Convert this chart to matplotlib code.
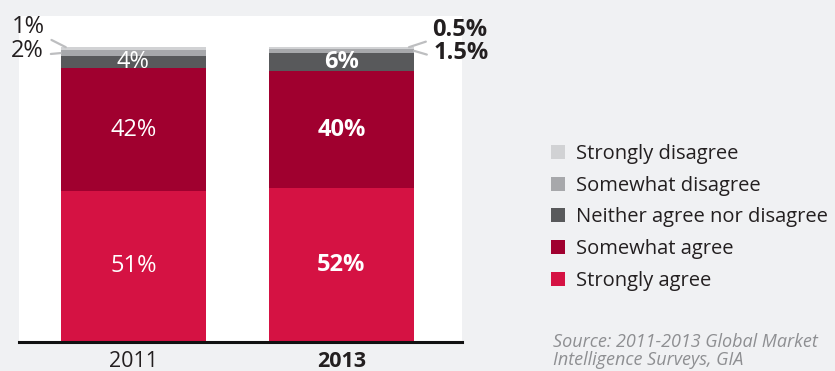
import numpy as np
import matplotlib.pyplot as plt
from matplotlib.patches import Patch

plt.rcParams['font.family'] = ['Open Sans', 'DejaVu Sans']

years = ['2011', '2013']
categories = ['Strongly agree', 'Somewhat agree', 'Neither agree nor disagree',
              'Somewhat disagree', 'Strongly disagree']
values = {
    '2011': [51, 42, 4, 2, 1],
    '2013': [52, 40, 6, 1.5, 0.5],
}
labels = {
    '2011': ['51%', '42%', '4%', '2%', '1%'],
    '2013': ['52%', '40%', '6%', '1.5%', '0.5%'],
}
colors = ['#d51243', '#a0002f', '#58595b', '#a7a8ab', '#d1d2d4']
bg = '#f0f1f3'
dark = '#231f20'

fig = plt.figure(figsize=(8.35, 3.71), dpi=100, facecolor=bg)
ax = fig.add_axes([19 / 835, 29.5 / 371, 443 / 835, 325.5 / 371])
ax.set_facecolor('white')

x = np.arange(len(years))
width = 0.7
bottoms = np.zeros(len(years))
for i, cat in enumerate(categories):
    vals = np.array([values[y][i] for y in years])
    ax.bar(x, vals, width, bottom=bottoms, color=colors[i], linewidth=0)
    for j, y in enumerate(years):
        weight = 'bold' if y == '2013' else 'normal'
        mid = bottoms[j] + vals[j] / 2
        if i < 3:
            ax.text(x[j], mid, labels[y][i], ha='center', va='center',
                    color='white', fontsize=17, fontweight=weight)
    bottoms += vals

# small top segments get leader lines to labels outside the bars
lc = '#bdbec0'
offsets_sw = {'2011': (-12, 1.5), '2013': (14, -1.5)}
offsets_sd = {'2011': (-15, 14.5), '2013': (17, 12.5)}
for j, y in enumerate(years):
    weight = 'bold' if y == '2013' else 'normal'
    base = sum(values[y][:3])
    sw = values[y][3]
    sd = values[y][4]
    side = -1 if j == 0 else 1
    edge = x[j] + side * width / 2
    ha = 'right' if j == 0 else 'left'
    rx = 1 if j == 0 else 0
    # somewhat disagree: horizontal leader
    ax.annotate(labels[y][3], xy=(edge, base + sw / 2), xytext=offsets_sw[y],
                textcoords='offset points', ha=ha, va='center', fontsize=17,
                color=dark, fontweight=weight,
                arrowprops=dict(arrowstyle='-', color=lc, lw=1.6, relpos=(rx, 0.35),
                                shrinkA=3, shrinkB=0))
    # strongly disagree: diagonal leader
    ax.annotate(labels[y][4], xy=(edge - side * 0.025, base + sw + sd),
                xytext=offsets_sd[y], textcoords='offset points',
                ha=ha, va='center', fontsize=17, color=dark, fontweight=weight,
                arrowprops=dict(arrowstyle='-', color=lc, lw=1.6, relpos=(rx, 0.1),
                                shrinkA=3, shrinkB=0))

ax.set_xlim(-0.55, 1.58)
ax.set_ylim(0, 110.6)
for s in ['top', 'right', 'left']:
    ax.spines[s].set_visible(False)
ax.spines['bottom'].set_linewidth(2.2)
ax.spines['bottom'].set_color('#111111')
ax.set_yticks([])
ax.set_xticks(x)
ax.set_xticklabels(years, fontsize=15.5, color=dark)
ax.get_xticklabels()[1].set_fontweight('bold')
ax.tick_params(axis='x', length=0, pad=7)

handles = [Patch(facecolor=colors[i], edgecolor='none', label=categories[i])
           for i in range(len(categories) - 1, -1, -1)]
fig.legend(handles=handles, loc='upper left', bbox_to_anchor=(551 / 835, 1 - 144 / 371),
           frameon=False, fontsize=14.5, handlelength=0.7, handleheight=0.7,
           handletextpad=0.55, labelspacing=0.58, borderaxespad=0, borderpad=0,
           labelcolor=dark)

fig.text(553 / 835, 1 - 351 / 371, 'Source: 2011-2013 Global Market\nIntelligence Surveys, GIA',
         fontsize=13, style='italic', color='#8e8f92', va='center', ha='left',
         linespacing=1.0)

fig.savefig('out.png', dpi=100, facecolor=bg)
